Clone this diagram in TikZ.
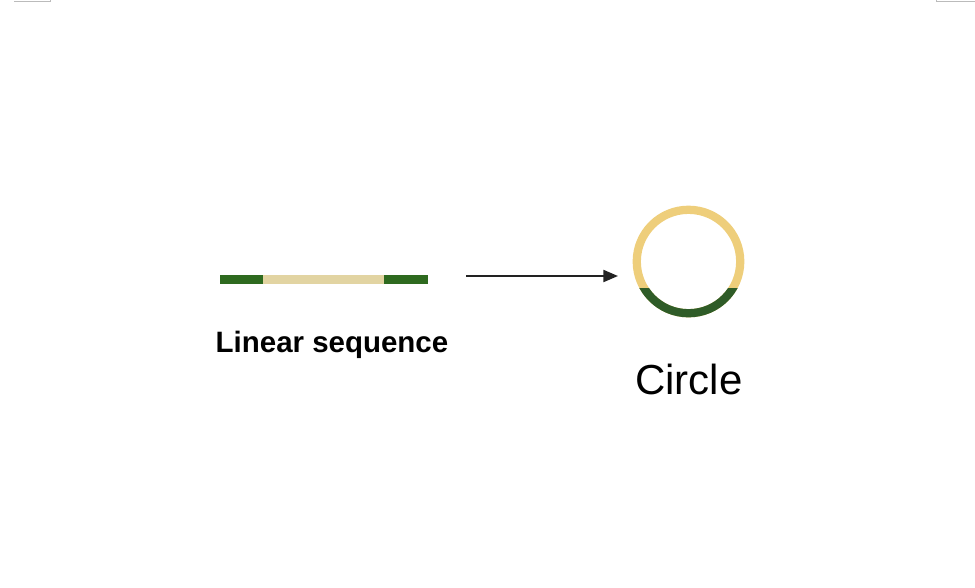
\documentclass[tikz,border=0pt]{standalone}
\usepackage{fontspec}
\setmainfont{Liberation Sans}
\usetikzlibrary{arrows.meta}
\definecolor{dkgreen}{HTML}{2E6A1F}
\definecolor{beige}{HTML}{E2D4A2}
\definecolor{ringyellow}{HTML}{EECE7B}
\definecolor{ringgreen}{HTML}{2F5C28}
\definecolor{arrowgray}{HTML}{222222}
\definecolor{markgray}{HTML}{BBBBBB}
\tikzset{
  barpart/.style={inner sep=0pt, outer sep=0pt, minimum height=6.75pt},
  txtlabel/.style={inner sep=0pt, anchor=base, text=black},
  cropmark/.style={draw=markgray, line width=0.75pt},
  ring/.style={line width=6.2pt}
}
\begin{document}
\begin{tikzpicture}[x=0.75pt,y=-0.75pt]
\useasboundingbox (0,0) rectangle (975,587);
% crop marks
\draw[cropmark] (14,1.5) -- (50,1.5) -- (50,0);
\draw[cropmark] (975,1.5) -- (936,1.5) -- (936,0);
% linear bar
\node[barpart, fill=dkgreen, minimum width=32.25pt, anchor=west] (g1) at (220,279.5) {};
\node[barpart, fill=beige, minimum width=90.75pt, anchor=west] (b1) at (g1.east) {};
\node[barpart, fill=dkgreen, minimum width=33pt, anchor=west] (g2) at (b1.east) {};
\node[txtlabel, font=\bfseries\fontsize{22.1pt}{26pt}\selectfont] (lin) at (332,352) {Linear sequence};
% arrow
\coordinate (as) at (466,276);
\coordinate (ae) at (618,276);
\draw[arrowgray, line width=1.6pt, -{Triangle[length=11pt,width=9pt]}] (as) -- (ae);
% circle
\coordinate (cc) at (688.5,261.5);
\draw[ring, ringyellow] (cc) circle[radius=38.8pt];
\begin{scope}
\clip (620,288) rectangle (760,330);
\draw[ring, ringgreen] (cc) circle[radius=38.8pt];
\end{scope}
\node[txtlabel, font=\fontsize{31.5pt}{36pt}\selectfont] (circ) at (689,394) {Circle};
\end{tikzpicture}
\end{document}
